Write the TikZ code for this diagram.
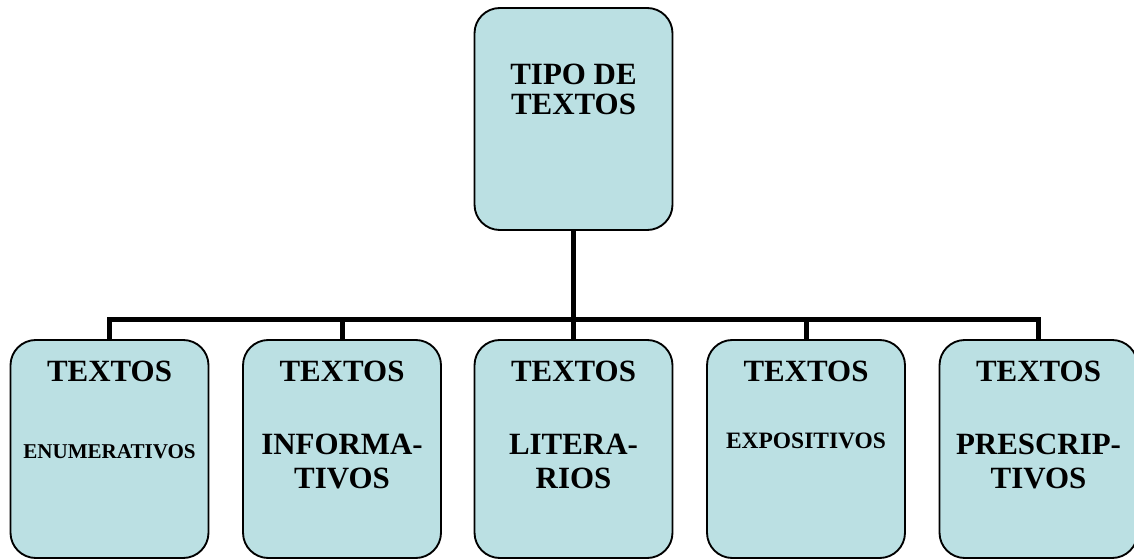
\documentclass[tikz,border=0pt]{standalone}
\usepackage{fontspec}
\setmainfont{Liberation Serif}
\definecolor{boxfill}{RGB}{187,224,227}
\begin{document}
\begin{tikzpicture}[x=0.75pt,y=-0.75pt,
  box/.style={draw=black,line width=1.4pt,fill=boxfill,rounded corners=19pt,
    minimum width=148.5pt,inner sep=0pt,outer sep=0pt},
  topbox/.style={box,minimum height=166.5pt},
  subbox/.style={box,minimum height=163.5pt},
  big/.style={font=\bfseries\fontsize{23.2}{24}\selectfont,anchor=base,inner sep=0pt},
  small/.style={font=\bfseries\fontsize{15.8}{17}\selectfont,anchor=base,inner sep=0pt},
  mid/.style={font=\bfseries\fontsize{17.6}{19}\selectfont,anchor=base,inner sep=0pt},
  conn/.style={line width=3.75pt,line join=miter}]
\useasboundingbox (0,0) rectangle (1134,559);
\node[topbox] (top) at (573.5,119) {};
\node[subbox] (b1) at (109.5,449) {};
\node[subbox] (b2) at (342,449) {};
\node[subbox] (b3) at (573.5,449) {};
\node[subbox] (b4) at (806,449) {};
\node[subbox] (b5) at (1038.5,449) {};
\coordinate (bus) at (573.5,320);
\draw[conn] (top.south) -- (bus);
\draw[conn] (b1.north) |- (b5.north |- bus) -- (b5.north);
\foreach \b in {b2,b3,b4}{\draw[conn] (\b.north) -- (\b.north |- bus);}
% texts
\node[big] (t1) at (573.5,85) {TIPO DE};
\node[big] (t2) at (573.5,115) {TEXTOS};
\node[big] (a1) at (109.5,381) {TEXTOS};
\node[small] (a2) at (109.5,458) {ENUMERATIVOS};
\node[big] (c1) at (342,381) {TEXTOS};
\node[big] (c2) at (342,454) {INFORMA-};
\node[big] (c3) at (342,488) {TIVOS};
\node[big] (d1) at (573.5,381) {TEXTOS};
\node[big] (d2) at (573.5,454) {LITERA-};
\node[big] (d3) at (573.5,488) {RIOS};
\node[big] (e1) at (806,381) {TEXTOS};
\node[mid] (e2) at (806,448) {EXPOSITIVOS};
\node[big] (f1) at (1038.5,381) {TEXTOS};
\node[big] (f2) at (1038.5,454) {PRESCRIP-};
\node[big] (f3) at (1038.5,488) {TIVOS};
\end{tikzpicture}
\end{document}
